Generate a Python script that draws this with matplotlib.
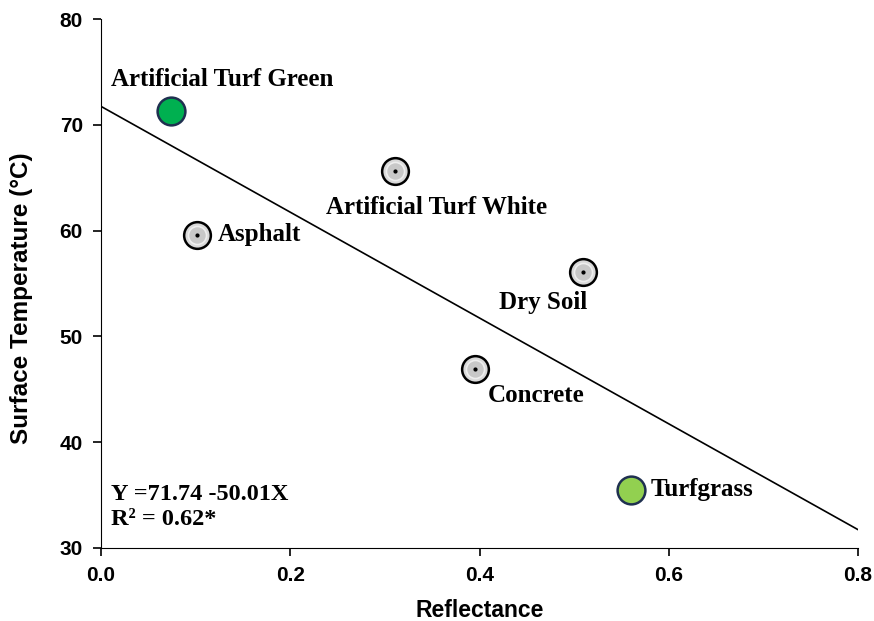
import matplotlib
matplotlib.use('Agg')
import matplotlib.pyplot as plt
import numpy as np

# data
surfaces = ['Artificial Turf Green', 'Asphalt', 'Artificial Turf White',
            'Dry Soil', 'Concrete', 'Turfgrass']
reflectance = [0.074, 0.101, 0.311, 0.509, 0.395, 0.560]
temperature = [71.3, 59.6, 65.6, 56.1, 46.95, 35.5]
intercept = 71.74
slope = -50.01
r2 = 0.62

# marker styles per surface
fills = ['#00b050', '#d9d9d9', '#d9d9d9', '#d9d9d9', '#d9d9d9', '#92d050']
edges = ['#1f3050', 'black', 'black', 'black', 'black', '#1f3050']
# label offsets in points from the marker
offsets = [(-43, 23), (15, 0), (-50, -26), (-60, -22), (9, -19), (14, 0)]

serif = 'Liberation Serif'
sans = 'Liberation Sans'

fig = plt.figure(figsize=(8.74, 6.21), dpi=100)
ax = fig.add_axes([0.1156, 0.1176, 0.8661, 0.8518])

xl = np.array([0.0, 0.8])
ax.plot(xl, intercept + slope * xl, color='black', lw=1.2, zorder=2)

for i, name in enumerate(surfaces):
    gray = fills[i] == '#d9d9d9'
    ax.scatter(reflectance[i], temperature[i], s=370 if gray else 400,
               facecolor=fills[i], edgecolor=edges[i], linewidth=1.8, zorder=3)
    if gray:
        ax.scatter(reflectance[i], temperature[i], s=170, facecolor='#c8c8c8',
                   edgecolor='#eeeeee', linewidth=1.2, zorder=4)
        ax.scatter(reflectance[i], temperature[i], s=4, color='black', zorder=5)
    ax.annotate(name, (reflectance[i], temperature[i]), xytext=offsets[i],
                textcoords='offset points', ha='left', va='center',
                fontsize=18, fontweight='bold', family=serif)

ax.text(0.013, 0.102, 'Y =%.2f %.2fX' % (intercept, slope), transform=ax.transAxes,
        ha='left', va='center', fontsize=17.5, fontweight='bold', family=serif)
ax.text(0.013, 0.053, 'R² = %.2f*' % r2, transform=ax.transAxes,
        ha='left', va='center', fontsize=17.5, fontweight='bold', family=serif)

ax.set_xlim(0, 0.8)
ax.set_ylim(30, 80)
ax.set_xticks([0.0, 0.2, 0.4, 0.6, 0.8])
ax.set_yticks([30, 40, 50, 60, 70, 80])
ax.spines['top'].set_visible(False)
ax.spines['right'].set_visible(False)
ax.tick_params(direction='out', length=6, width=1.2, labelsize=15)
ax.tick_params(axis='x', pad=7)
ax.tick_params(axis='y', pad=7)
for lab in ax.get_xticklabels() + ax.get_yticklabels():
    lab.set_fontweight('bold')
    lab.set_family(sans)
ax.set_xlabel('Reflectance', fontsize=16.5, fontweight='bold', family=sans, labelpad=10)
ax.set_ylabel('Surface Temperature (°C)', fontsize=17.5, fontweight='bold', family=sans)
ax.yaxis.set_label_coords(-0.09, 0.473)

fig.savefig('out.png', dpi=100)
